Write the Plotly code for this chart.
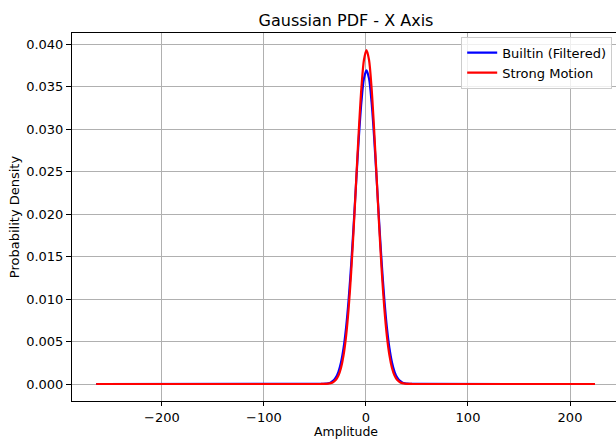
import plotly.graph_objects as go

# Sample points (x offsets around the mean)
x_vals = [-265, -45, -42.5, -40, -37.5, -35, -32.5, -30, -27.5, -25, -22.5, -20, -17.5, -15,
          -12.5, -10, -7.5, -5, -2.5, 0, 2.5, 5, 7.5, 10, 12.5, 15, 17.5, 20, 22.5, 25,
          27.5, 30, 32.5, 35, 37.5, 40, 42.5, 45, 224]

blue_half = [0.0369, 0.03593, 0.03315, 0.0290, 0.02404, 0.01889, 0.01407, 0.00993, 0.00664,
             0.00421, 0.00253, 0.00144, 0.00078, 0.000399, 0.000193, 0.0000889, 0.0000388,
             0.000016, 0.0000063]
red_half = [0.0393, 0.03813, 0.03481, 0.02991, 0.02419, 0.01841, 0.01319, 0.00889, 0.00564,
            0.00337, 0.00189, 0.001001, 0.000498, 0.000233, 0.000103, 0.0000428, 0.0000167,
            0.0000061, 0.0000021]

builtin_y = [0.0] + blue_half[:0:-1] + blue_half + [0.0]
strong_y = [0.0] + red_half[:0:-1] + red_half + [0.0]

x_ticks = [-200, -100, 0, 100, 200]
y_ticks = [0.000, 0.005, 0.010, 0.015, 0.020, 0.025, 0.030, 0.035, 0.040]

fig = go.Figure()
fig.add_trace(go.Scatter(x=[v + 0.5 for v in x_vals], y=builtin_y, mode="lines",
                         name="Builtin (Filtered)",
                         line=dict(color="#0000ff", width=2.2, shape="spline", smoothing=0.8)))
fig.add_trace(go.Scatter(x=[v + 0.5 for v in x_vals], y=strong_y, mode="lines",
                         name="Strong Motion",
                         line=dict(color="#ff0000", width=2.2, shape="spline", smoothing=0.8)))

font = "DejaVu Sans"
fig.update_layout(
    width=616, height=439,
    margin=dict(l=72, r=0, t=33, b=38, autoexpand=False),
    paper_bgcolor="white", plot_bgcolor="white",
    font=dict(family=font, size=13, color="black"),
    title=dict(text="Gaussian PDF - X Axis", x=346/616, xanchor="center",
               y=1 - 20/439, yanchor="middle", font=dict(size=16, family=font)),
    showlegend=True,
    legend=dict(x=0.993, xanchor="right", y=0.99, yanchor="top",
                bordercolor="#cccccc", borderwidth=1, bgcolor="rgba(255,255,255,0.8)",
                font=dict(size=13, family=font), tracegroupgap=0, itemwidth=30),
    annotations=[dict(text="Amplitude", xref="paper", yref="paper",
                      x=(346 - 72) / 544, y=-(431 - 401) / 368,
                      xanchor="center", yanchor="middle", showarrow=False,
                      font=dict(size=12.5, family=font))],
)
fig.update_xaxes(
    automargin=False,
    range=[-288.2, 245.1], tickvals=x_ticks, ticktext=[("\u2212" + str(-t)) if t < 0 else str(t) for t in x_ticks],
    showgrid=True, gridcolor="#b0b0b0", gridwidth=0.8, zeroline=False,
    showline=True, linecolor="black", linewidth=1, mirror=True,
    ticks="outside", ticklen=4, tickcolor="black",
)
fig.update_yaxes(
    automargin=False,
    range=[-0.002, 0.0413], tickvals=y_ticks, tickformat=".3f",
    showgrid=True, gridcolor="#b0b0b0", gridwidth=0.8, zeroline=False,
    showline=True, linecolor="black", linewidth=1,
    ticks="outside", ticklen=5, tickcolor="black",
    title=dict(text="Probability Density", standoff=3, font=dict(size=13)),
)
fig.write_html("out.html", config={"displayModeBar": False},
               post_script="document.body.style.margin='0';document.body.style.overflow='hidden';")
